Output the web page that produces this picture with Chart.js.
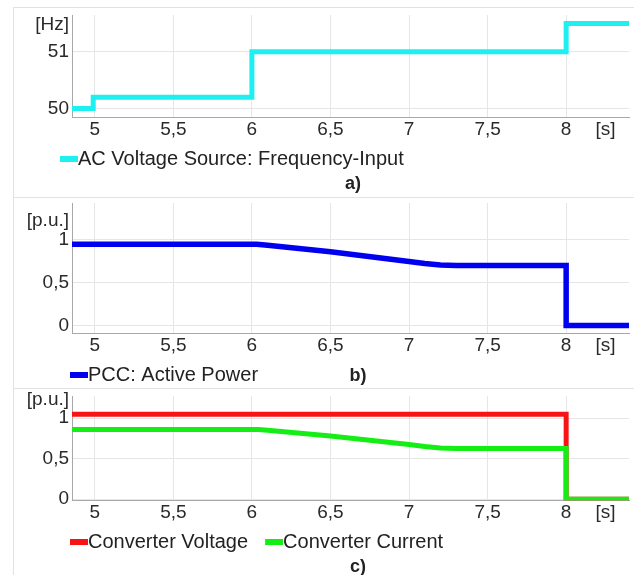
<!DOCTYPE html>
<html>
<head>
<meta charset="utf-8">
<title>Frequency step response</title>
<script src="https://cdn.jsdelivr.net/npm/chart.js@4.4.1/dist/chart.umd.min.js"></script>
<style>
  html, body { margin: 0; padding: 0; background: #fff; width: 634px; height: 575px; overflow: hidden; }
  .frame { position: absolute; left: 13px; width: 640px; border: 1px solid #e2e2e2; box-sizing: border-box; }
  canvas { position: absolute; left: 0; }
</style>
</head>
<body>
<div class="frame" style="top:7px;height:191px"></div>
<div class="frame" style="top:197px;height:192px"></div>
<div class="frame" style="top:388px;height:200px"></div>
<canvas id="chartA" width="634" height="186" style="top:7px"></canvas>
<canvas id="chartB" width="634" height="198" style="top:197px"></canvas>
<canvas id="chartC" width="634" height="188" style="top:388px"></canvas>
<script>
'use strict';

// time axis [s], same for all three plots
const timeTicks = [5, 5.5, 6, 6.5, 7, 7.5, 8];

// a) AC Voltage Source: Frequency-Input [Hz]
const freqTime = [4.855, 4.99, 4.99, 6.0, 6.0, 8.0, 8.0, 8.4];
const freqValue = [50, 50, 50.2, 50.2, 51, 51, 51.5, 51.5];
const freqTicks = [50, 51];

// b) PCC: Active Power [p.u.]
const powerTime = [4.855, 6.03, 6.1, 6.5, 7.0, 7.1, 7.2, 7.3, 8.0, 8.0, 8.4];
const powerValue = [0.945, 0.945, 0.935, 0.86, 0.745, 0.722, 0.706, 0.7, 0.7, 0, 0];

// c) converter voltage and current [p.u.]
const voltTime = [4.855, 8.0, 8.0, 8.4];
const voltValue = [1.05, 1.05, 0, 0];
const currTime = [4.855, 6.04, 6.1, 6.5, 7.0, 7.1, 7.2, 7.3, 8.0, 8.0, 8.4];
const currValue = [0.86, 0.86, 0.852, 0.78, 0.675, 0.65, 0.632, 0.625, 0.625, 0, 0];

const puTicks = [0, 0.5, 1];

Chart.defaults.font.family = "'Liberation Sans', Arial, sans-serif";
Chart.defaults.color = '#2a2a2a';

const gridColor = '#e6e6e6';
const axisColor = '#a8a8a8';
const hidden = 'rgba(0,0,0,0)';
const unitX = 8.25;

function points(xs, ys) {
  return xs.map((x, i) => ({x: x, y: ys[i]}));
}

function comma(v) {
  return String(v).replace('.', ',');
}

// short thick dash in the legend, running straight into the label text
function legendDash(color) {
  let c = document.createElement('canvas');
  c.width = 38;
  c.height = 8;
  let g = c.getContext('2d');
  g.fillStyle = color;
  g.fillRect(20, 1, 18, 6);
  return c;
}

// moves legend start and caption centre to where the figure has them
const placeBoxes = {
  id: 'placeBoxes',
  afterLayout(chart, args, o) {
    let lg = chart.legend;
    lg.left = o.legendX - 10 - lg.options.labels.padding;
    let t = chart.titleBlock;
    let half = (t.right - t.left) / 2;
    t.left = o.titleX - half;
    t.right = o.titleX + half;
  }
};

function series(label, xs, ys, color, width, order) {
  return {
    label: label,
    data: points(xs, ys),
    borderColor: color,
    backgroundColor: color,
    borderWidth: width,
    borderJoinStyle: 'miter',
    pointRadius: 0,
    pointStyle: legendDash(color),
    tension: 0,
    order: order || 0
  };
}

function plot(id, opts) {
  let ctx = document.getElementById(id).getContext('2d');
  return new Chart(ctx, {
    type: 'line',
    data: { datasets: opts.datasets },
    plugins: [placeBoxes],
    options: {
      responsive: false,
      animation: false,
      events: [],
      layout: { padding: { left: 20, top: opts.top, right: 5, bottom: 0 } },
      plugins: {
        tooltip: { enabled: false },
        placeBoxes: { legendX: opts.legendX, titleX: opts.titleX },
        legend: {
          position: 'bottom',
          align: 'start',
          labels: {
            usePointStyle: true,
            boxWidth: 18,
            boxHeight: 8,
            padding: 7,
            color: '#222',
            font: { size: 20, lineHeight: 1 },
            sort: (a, b) => a.datasetIndex - b.datasetIndex
          }
        },
        title: {
          display: true,
          text: opts.title,
          position: 'bottom',
          color: '#222',
          font: { size: 18, weight: 'bold', lineHeight: 1 },
          padding: opts.titlePadding
        }
      },
      scales: {
        x: {
          type: 'linear',
          min: 4.855,
          max: 8.4,
          afterBuildTicks: s => { s.ticks = timeTicks.concat([unitX]).map(v => ({value: v})); },
          afterFit: s => { s.paddingLeft = 0; s.paddingRight = 0; },
          ticks: {
            autoSkip: false,
            maxRotation: 0,
            padding: 1,
            font: { size: 19 },
            callback: v => v === unitX ? '[s]' : comma(v)
          },
          grid: { drawTicks: false, color: c => c.tick && c.tick.value === unitX ? hidden : gridColor },
          border: { color: axisColor }
        },
        y: {
          min: opts.yMin,
          max: opts.yMax,
          afterBuildTicks: s => { s.ticks = opts.yTicks.concat([opts.unitAt]).map(v => ({value: v})); },
          afterFit: s => { s.width = 52; s.paddingTop = 0; s.paddingBottom = 0; },
          ticks: {
            padding: 3,
            font: { size: 19 },
            callback: v => v === opts.unitAt ? opts.unit : comma(v)
          },
          grid: { drawTicks: false, color: c => c.tick && c.tick.value === opts.unitAt ? hidden : gridColor },
          border: { color: axisColor }
        }
      }
    }
  });
}

plot('chartA', {
  datasets: [series('AC Voltage Source: Frequency-Input', freqTime, freqValue, '#1ef0f2', 5)],
  top: 8, legendX: 60, titleX: 353,
  yMin: 49.846, yMax: 51.65, yTicks: freqTicks, unitAt: 51.47, unit: '[Hz]',
  title: 'a)', titlePadding: { top: -4, bottom: 0 }
});

plot('chartB', {
  datasets: [series('PCC: Active Power', powerTime, powerValue, '#0000f0', 5.5)],
  top: 6, legendX: 70, titleX: 358,
  yMin: -0.09, yMax: 1.427, yTicks: puTicks, unitAt: 1.225, unit: '[p.u.]',
  title: 'b)', titlePadding: { top: -28, bottom: 10 }
});

plot('chartC', {
  datasets: [
    series('Converter Voltage', voltTime, voltValue, '#f81414', 5, 1),
    series('Converter Current', currTime, currValue, '#14ee14', 5, 0)
  ],
  top: 8, legendX: 70, titleX: 358,
  yMin: -0.0125, yMax: 1.275, yTicks: puTicks, unitAt: 1.23, unit: '[p.u.]',
  title: 'c)', titlePadding: { top: -4, bottom: 0 }
});
</script>
</body>
</html>
